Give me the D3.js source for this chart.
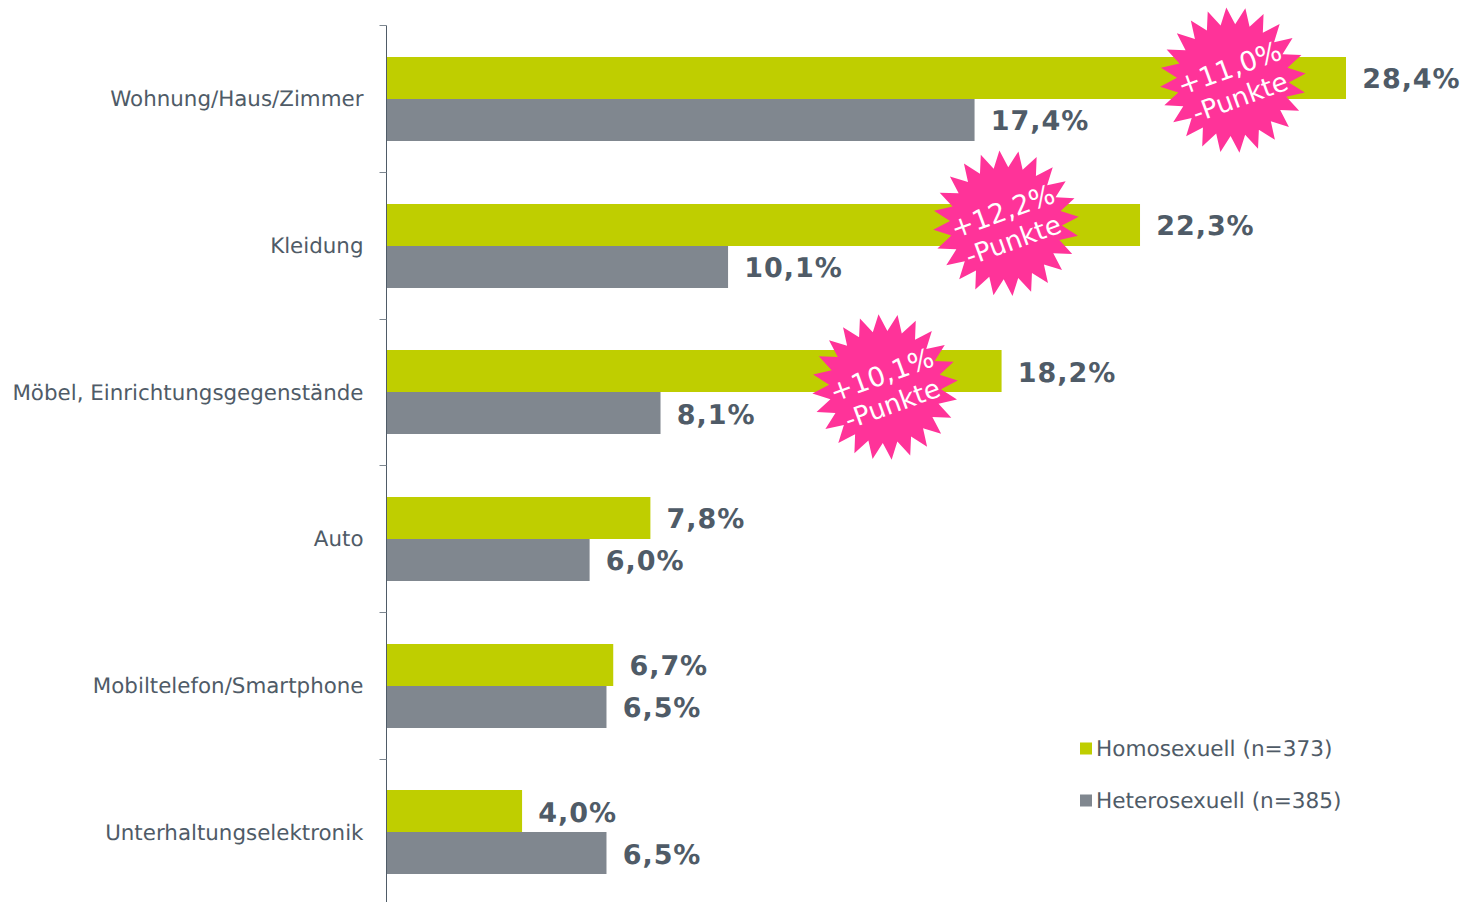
<!DOCTYPE html>
<html><head><meta charset="utf-8">
<script src="https://cdnjs.cloudflare.com/ajax/libs/d3/7.8.5/d3.min.js"></script>
<style>html,body{margin:0;padding:0;background:#fff}svg{display:block}text{font-family:"DejaVu Sans",Verdana,sans-serif;text-rendering:geometricPrecision}</style>
</head><body><svg id="c" width="1472" height="902"></svg>
<script>
const categories=["Wohnung/Haus/Zimmer","Kleidung","Möbel, Einrichtungsgegenstände","Auto","Mobiltelefon/Smartphone","Unterhaltungselektronik"];
const homo=[28.4,22.3,18.2,7.8,6.7,4.0];
const hetero=[17.4,10.1,8.1,6.0,6.5,6.5];
const seriesNames=["Homosexuell (n=373)","Heterosexuell (n=385)"];
const colors=["#bfce00","#80878f"];
const badgeCategories=["Wohnung/Haus/Zimmer","Kleidung","Möbel, Einrichtungsgegenstände"];
const badgeValues=["+11,0%","+12,2%","+10,1%"];
const badgeX=[25.05,18.33,14.75];
const badgeDy=[-18.5,-22,-5];
const ink="#4f5b67";
const fmt=v=>v.toFixed(1).replace(".",",")+"%";
const svg=d3.select("#c");
const x=d3.scaleLinear().domain([0,28.4]).range([387,1346]);
const y=d3.scaleBand().domain(categories).range([25.3,905.3]).padding(0);
const bar=42;
const axis=svg.append("g").attr("transform","translate(386.5,0)");
axis.call(d3.axisLeft(y).tickSize(0).tickPadding(23));
axis.select(".domain").attr("stroke",ink).attr("stroke-width",1).attr("d","M0,25.5V902");
axis.selectAll(".tick text").attr("fill",ink).attr("font-size",21.4).attr("font-family",'"DejaVu Sans"').attr("dy","0.36em");
axis.selectAll(".tk").data(categories).join("line").attr("class","tk")
 .attr("x1",-7).attr("x2",0).attr("y1",d=>Math.round(y(d))+.5).attr("y2",d=>Math.round(y(d))+.5).attr("stroke","#7d8790");
[homo,hetero].forEach((vals,i)=>{
 const mid=c=>y(c)+y.bandwidth()/2;
 const top=c=>Math.round(mid(c)+.2)+(i?0:-bar);
 svg.append("g").selectAll("rect").data(categories).join("rect")
  .attr("x",x(0)).attr("y",top).attr("width",(c,k)=>x(vals[k])-x(0)).attr("height",bar).attr("fill",colors[i]);
 svg.append("g").selectAll("text").data(categories).join("text")
  .attr("x",(c,k)=>x(vals[k])+16.2).attr("y",c=>mid(c)+(i?21:-21)+10.6)
  .attr("font-size",27).attr("letter-spacing",0.95).attr("font-weight","bold").attr("fill",ink).text((c,k)=>fmt(vals[k]));
});
const radial=d3.lineRadial().curve(d3.curveLinearClosed);
const spikes=d3.range(48);
const star=radial.angle(i=>i*Math.PI/24-0.09).radius(i=>i%2?56:73)(spikes);
badgeCategories.forEach((c,i)=>{
 const cx=x(badgeX[i]),cy=y(c)+y.bandwidth()/2+badgeDy[i];
 const g=svg.append("g").attr("transform",`translate(${cx},${cy})`);
 g.append("path").attr("d",star).attr("fill","#ff3399");
 const t=g.append("g").attr("transform","rotate(-20)").attr("fill","#fff").attr("text-anchor","middle");
 t.append("text").attr("x",1).attr("y",-3).attr("font-size",27).text(badgeValues[i]);
 t.append("text").attr("x",1).attr("y",27.5).attr("font-size",26.2).text("-Punkte");
});
const lg=svg.append("g");
seriesNames.forEach((n,i)=>{
 const ly=748.5+i*52;
 lg.append("rect").attr("x",1080).attr("y",ly-6).attr("width",12).attr("height",12).attr("fill",colors[i]);
 lg.append("text").attr("x",1096).attr("y",ly+7.5).attr("font-size",21.6).attr("fill",ink).text(n);
});
</script></body></html>
